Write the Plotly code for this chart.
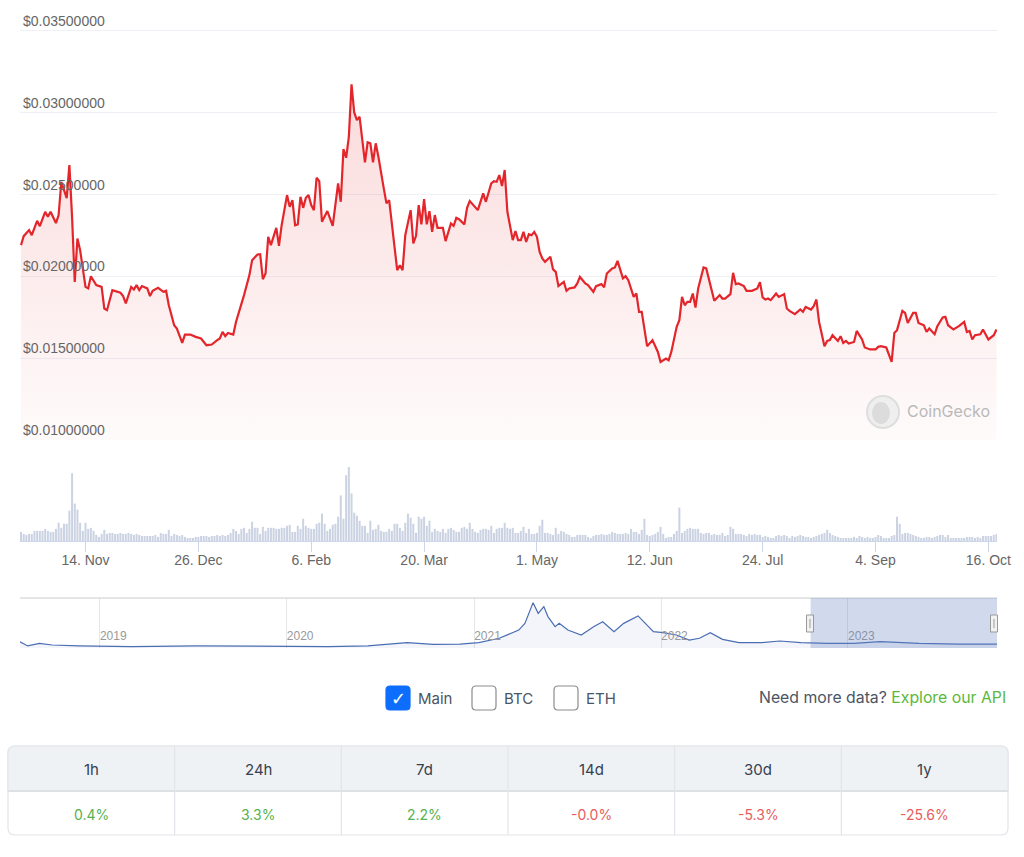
import pandas as pd
import plotly.graph_objects as go

W, H = 1024, 857

# ---- price, last 12 months (USD) ----
price_dates = [
    "2022-10-21", "2022-10-22", "2022-10-24", "2022-10-25", "2022-10-27", "2022-10-28", "2022-10-30", "2022-10-31",
    "2022-11-01", "2022-11-03", "2022-11-04", "2022-11-05", "2022-11-07", "2022-11-08", "2022-11-09", "2022-11-10",
    "2022-11-11", "2022-11-12", "2022-11-14", "2022-11-15", "2022-11-16", "2022-11-18", "2022-11-20", "2022-11-21",
    "2022-11-22", "2022-11-24", "2022-11-27", "2022-11-28", "2022-11-29", "2022-12-01", "2022-12-02", "2022-12-03",
    "2022-12-04", "2022-12-05", "2022-12-07", "2022-12-08", "2022-12-09", "2022-12-11", "2022-12-13", "2022-12-14",
    "2022-12-15", "2022-12-17", "2022-12-18", "2022-12-20", "2022-12-21", "2022-12-23", "2022-12-25", "2022-12-27",
    "2022-12-29", "2022-12-31", "2023-01-02", "2023-01-03", "2023-01-04", "2023-01-05", "2023-01-06", "2023-01-07",
    "2023-01-08", "2023-01-09", "2023-01-11", "2023-01-12", "2023-01-14", "2023-01-15", "2023-01-17", "2023-01-18",
    "2023-01-19", "2023-01-20", "2023-01-21", "2023-01-22", "2023-01-24", "2023-01-25", "2023-01-26", "2023-01-28",
    "2023-01-29", "2023-01-30", "2023-01-31", "2023-02-01", "2023-02-02", "2023-02-03", "2023-02-04", "2023-02-05",
    "2023-02-06", "2023-02-07", "2023-02-08", "2023-02-09", "2023-02-10", "2023-02-12", "2023-02-14", "2023-02-16",
    "2023-02-17", "2023-02-18", "2023-02-19", "2023-02-20", "2023-02-21", "2023-02-22", "2023-02-23", "2023-02-24",
    "2023-02-26", "2023-02-27", "2023-02-28", "2023-03-01", "2023-03-02", "2023-03-03", "2023-03-05", "2023-03-06",
    "2023-03-07", "2023-03-08", "2023-03-10", "2023-03-11", "2023-03-12", "2023-03-13", "2023-03-15", "2023-03-16",
    "2023-03-17", "2023-03-18", "2023-03-19", "2023-03-20", "2023-03-21", "2023-03-22", "2023-03-23", "2023-03-24",
    "2023-03-25", "2023-03-27", "2023-03-28", "2023-03-30", "2023-03-31", "2023-04-01", "2023-04-02", "2023-04-04",
    "2023-04-05", "2023-04-06", "2023-04-09", "2023-04-11", "2023-04-12", "2023-04-14", "2023-04-15", "2023-04-16",
    "2023-04-17", "2023-04-18", "2023-04-19", "2023-04-20", "2023-04-21", "2023-04-22", "2023-04-23", "2023-04-24",
    "2023-04-25", "2023-04-26", "2023-04-27", "2023-04-28", "2023-04-29", "2023-04-30", "2023-05-01", "2023-05-02",
    "2023-05-03", "2023-05-04", "2023-05-06", "2023-05-07", "2023-05-08", "2023-05-09", "2023-05-11", "2023-05-12",
    "2023-05-13", "2023-05-15", "2023-05-16", "2023-05-17", "2023-05-19", "2023-05-20", "2023-05-22", "2023-05-23",
    "2023-05-25", "2023-05-26", "2023-05-27", "2023-05-29", "2023-05-30", "2023-05-31", "2023-06-02", "2023-06-03",
    "2023-06-04", "2023-06-06", "2023-06-07", "2023-06-08", "2023-06-09", "2023-06-11", "2023-06-13", "2023-06-15",
    "2023-06-16", "2023-06-18", "2023-06-19", "2023-06-20", "2023-06-22", "2023-06-23", "2023-06-24", "2023-06-25",
    "2023-06-26", "2023-06-27", "2023-06-28", "2023-06-29", "2023-06-30", "2023-07-02", "2023-07-03", "2023-07-06",
    "2023-07-08", "2023-07-09", "2023-07-10", "2023-07-12", "2023-07-13", "2023-07-14", "2023-07-15", "2023-07-17",
    "2023-07-18", "2023-07-20", "2023-07-22", "2023-07-23", "2023-07-24", "2023-07-25", "2023-07-26", "2023-07-27",
    "2023-07-29", "2023-07-30", "2023-08-01", "2023-08-02", "2023-08-03", "2023-08-05", "2023-08-07", "2023-08-08",
    "2023-08-09", "2023-08-11", "2023-08-12", "2023-08-13", "2023-08-14", "2023-08-16", "2023-08-17", "2023-08-18",
    "2023-08-19", "2023-08-21", "2023-08-22", "2023-08-23", "2023-08-24", "2023-08-25", "2023-08-27", "2023-08-28",
    "2023-08-30", "2023-08-31", "2023-09-02", "2023-09-04", "2023-09-05", "2023-09-06", "2023-09-08", "2023-09-09",
    "2023-09-10", "2023-09-11", "2023-09-12", "2023-09-14", "2023-09-15", "2023-09-16", "2023-09-18", "2023-09-19",
    "2023-09-20", "2023-09-22", "2023-09-23", "2023-09-24", "2023-09-26", "2023-09-27", "2023-09-29", "2023-09-30",
    "2023-10-01", "2023-10-03", "2023-10-05", "2023-10-07", "2023-10-08", "2023-10-09", "2023-10-10", "2023-10-11",
    "2023-10-13", "2023-10-14", "2023-10-16", "2023-10-18", "2023-10-19",
]
price_usd = [
    0.02190, 0.02245, 0.02282, 0.02251, 0.02339, 0.02306, 0.02394, 0.02363,
    0.02394, 0.02325, 0.02374, 0.02577, 0.02477, 0.02679, 0.02363, 0.01966,
    0.02231, 0.02160, 0.01935, 0.01926, 0.02000, 0.01946, 0.01935, 0.01803,
    0.01793, 0.01915, 0.01899, 0.01879, 0.01834, 0.01935, 0.01919, 0.01946,
    0.01915, 0.01940, 0.01926, 0.01879, 0.01911, 0.01929, 0.01905, 0.01911,
    0.01823, 0.01701, 0.01681, 0.01593, 0.01644, 0.01644, 0.01630, 0.01620,
    0.01579, 0.01583, 0.01610, 0.01620, 0.01660, 0.01634, 0.01654, 0.01651,
    0.01644, 0.01721, 0.01823, 0.01885, 0.02007, 0.02098, 0.02133, 0.02135,
    0.01982, 0.02017, 0.02241, 0.02190, 0.02296, 0.02186, 0.02312, 0.02496,
    0.02424, 0.02465, 0.02312, 0.02317, 0.02485, 0.02418, 0.02479, 0.02496,
    0.02435, 0.02404, 0.02602, 0.02581, 0.02333, 0.02398, 0.02308, 0.02567,
    0.02455, 0.02777, 0.02724, 0.02852, 0.03172, 0.03001, 0.02954, 0.02974,
    0.02696, 0.02818, 0.02812, 0.02696, 0.02812, 0.02730, 0.02537, 0.02445,
    0.02465, 0.02312, 0.02037, 0.02068, 0.02037, 0.02251, 0.02404, 0.02201,
    0.02247, 0.02435, 0.02317, 0.02471, 0.02317, 0.02398, 0.02271, 0.02374,
    0.02296, 0.02296, 0.02215, 0.02323, 0.02308, 0.02357, 0.02349, 0.02317,
    0.02418, 0.02459, 0.02404, 0.02506, 0.02455, 0.02567, 0.02581, 0.02577,
    0.02618, 0.02551, 0.02649, 0.02394, 0.02312, 0.02221, 0.02276, 0.02221,
    0.02221, 0.02271, 0.02210, 0.02257, 0.02251, 0.02271, 0.02241, 0.02149,
    0.02109, 0.02088, 0.02119, 0.02042, 0.02027, 0.01940, 0.01966, 0.01911,
    0.01926, 0.01932, 0.01956, 0.01996, 0.01956, 0.01946, 0.01905, 0.01940,
    0.01952, 0.01932, 0.02017, 0.02048, 0.02054, 0.02094, 0.01987, 0.02001,
    0.01976, 0.01874, 0.01895, 0.01783, 0.01783, 0.01573, 0.01610, 0.01538,
    0.01477, 0.01498, 0.01487, 0.01538, 0.01691, 0.01732, 0.01874, 0.01823,
    0.01844, 0.01844, 0.01895, 0.01809, 0.01926, 0.02054, 0.02048, 0.01850,
    0.01885, 0.01864, 0.01864, 0.01891, 0.02021, 0.01952, 0.01956, 0.01940,
    0.01911, 0.01911, 0.01926, 0.01964, 0.01871, 0.01858, 0.01864, 0.01854,
    0.01895, 0.01874, 0.01891, 0.01803, 0.01789, 0.01769, 0.01797, 0.01783,
    0.01813, 0.01797, 0.01817, 0.01858, 0.01721, 0.01573, 0.01605, 0.01610,
    0.01640, 0.01605, 0.01634, 0.01593, 0.01605, 0.01589, 0.01599, 0.01666,
    0.01614, 0.01565, 0.01553, 0.01553, 0.01569, 0.01573, 0.01565, 0.01518,
    0.01477, 0.01654, 0.01671, 0.01789, 0.01776, 0.01715, 0.01776, 0.01776,
    0.01715, 0.01701, 0.01660, 0.01681, 0.01646, 0.01695, 0.01748, 0.01752,
    0.01701, 0.01675, 0.01695, 0.01721, 0.01660, 0.01666, 0.01614, 0.01640,
    0.01646, 0.01675, 0.01614, 0.01640, 0.01675,
]

# ---- daily volume (relative units), one bar per day from 2022-10-21 ----
volume_start = "2022-10-21"
volume = [
    9, 7, 6, 7, 7, 10, 10, 10, 10, 12, 10, 9, 9, 12, 18, 13, 17, 17,
    30, 67, 37, 31, 18, 10, 18, 12, 13, 10, 6, 4, 7, 11, 7, 8, 8, 7,
    7, 8, 7, 7, 8, 7, 6, 7, 6, 5, 5, 5, 5, 5, 6, 4, 8, 7, 7, 11, 5, 7, 6, 5,
    6, 4, 3, 3, 3, 4, 4, 5, 5, 5, 4, 5, 5, 6, 5, 6, 5, 6,
    8, 12, 10, 7, 12, 13, 8, 12, 19, 13, 13, 7, 14, 10, 13, 13, 13, 12, 12,
    13, 13, 15, 16, 9, 9, 15, 12, 22, 15, 13, 12, 12, 17, 18, 27, 17, 10, 12,
    16, 17, 24, 45, 22, 65, 73, 47, 28, 25, 20, 15, 15, 8, 20,
    11, 12, 16, 10, 9, 9, 12, 10, 17, 17, 13, 10, 18, 27, 23, 17, 8, 24, 22, 24,
    15, 20, 9, 12, 10, 9, 12, 8, 12, 13, 11, 9, 9, 13, 14, 12, 18, 12, 9, 8,
    11, 12, 12, 11, 15, 8, 12, 13, 13, 18, 13, 12, 13, 8, 8, 10, 14, 8, 12, 7,
    7, 8, 15, 21, 8, 8, 7, 6, 13, 7, 10, 9, 7, 6, 4, 4, 6, 6, 6, 6,
    4, 3, 5, 6, 6, 7, 6, 6, 7, 9, 8, 7, 7, 7, 8, 7, 12, 9, 9, 7,
    11, 22, 6, 5, 6, 7, 9, 14, 7, 3, 4, 4, 7, 10, 33, 8, 10, 12, 13, 12,
    12, 12, 8, 7, 8, 8, 6, 7, 6, 6, 8, 5, 6, 14, 12, 7, 7, 7, 6, 5,
    7, 6, 7, 6, 6, 4, 5, 4, 3, 3, 5, 6, 5, 6, 5, 3, 5, 4, 5, 6,
    5, 4, 4, 3, 4, 5, 6, 7, 8, 11, 8, 6, 5, 4, 3, 3, 3, 3, 3, 4,
    3, 5, 4, 3, 4, 3, 3, 4, 6, 5, 3, 3, 3, 5, 6, 24, 17, 7, 8, 8,
    7, 6, 5, 4, 3, 3, 4, 4, 3, 4, 5, 6, 6, 4, 6, 3, 3, 3, 3, 3,
    3, 4, 4, 4, 3, 4, 3, 5, 5, 5, 5, 6, 7,
]

# ---- full-history navigator (USD) ----
nav_dates = [
    "2018-07-29", "2018-08-13", "2018-09-05", "2018-09-30", "2018-11-21", "2019-03-03", "2019-07-10",
    "2019-11-15", "2020-03-22", "2020-06-07", "2020-07-28", "2020-08-23", "2020-10-13", "2020-12-04",
    "2021-01-10", "2021-02-19", "2021-03-29", "2021-04-10", "2021-04-26", "2021-05-06", "2021-05-17",
    "2021-05-25", "2021-06-08", "2021-06-16", "2021-07-03", "2021-07-29", "2021-08-23", "2021-09-09",
    "2021-10-01", "2021-10-20", "2021-11-17", "2021-12-17", "2022-01-05", "2022-01-31", "2022-02-25",
    "2022-03-17", "2022-04-07", "2022-05-01", "2022-06-02", "2022-07-17", "2022-08-21", "2022-10-01",
    "2022-11-21", "2023-01-12", "2023-03-05", "2023-05-20", "2023-08-05", "2023-10-19",
]
nav_price = [
    0.027, 0.009, 0.020, 0.013, 0.009, 0.006, 0.009,
    0.006, 0.006, 0.009, 0.020, 0.023, 0.016, 0.017,
    0.023, 0.042, 0.077, 0.106, 0.195, 0.149, 0.178,
    0.135, 0.092, 0.106, 0.077, 0.056, 0.092, 0.113,
    0.070, 0.106, 0.138, 0.070, 0.066, 0.056, 0.034,
    0.042, 0.066, 0.037, 0.023, 0.023, 0.030, 0.023,
    0.020, 0.020, 0.027, 0.020, 0.017, 0.017,
]
nav_selected = ["2022-10-20", "2023-10-19"]

price_ticks = [0.010, 0.015, 0.020, 0.025, 0.030, 0.035]
date_ticks = ["2022-11-14", "2022-12-26", "2023-02-06", "2023-03-20", "2023-05-01",
              "2023-06-12", "2023-07-24", "2023-09-04", "2023-10-16"]
date_tick_labels = ["14. Nov", "26. Dec", "6. Feb", "20. Mar", "1. May",
                    "12. Jun", "24. Jul", "4. Sep", "16. Oct"]

series_options = ["Main", "BTC", "ETH"]
series_checked = [True, False, False]

periods = ["1h", "24h", "7d", "14d", "30d", "1y"]
changes = ["0.4", "3.3", "2.2", "-0.0", "-5.3", "-25.6"]


def fx(x):
    return x / W


def fy(y):
    return 1 - y / H


def rounded_rect(x0, y0, x1, y1, r, top_only=False):
    # path in paper units, built from pixel corners
    rb = 0 if top_only else r
    pts = [
        f"M {fx(x0 + r)},{fy(y0)}",
        f"L {fx(x1 - r)},{fy(y0)}",
        f"Q {fx(x1)},{fy(y0)} {fx(x1)},{fy(y0 + r)}",
        f"L {fx(x1)},{fy(y1 - rb)}",
        f"Q {fx(x1)},{fy(y1)} {fx(x1 - rb)},{fy(y1)}",
        f"L {fx(x0 + rb)},{fy(y1)}",
        f"Q {fx(x0)},{fy(y1)} {fx(x0)},{fy(y1 - rb)}",
        f"L {fx(x0)},{fy(y0 + r)}",
        f"Q {fx(x0)},{fy(y0)} {fx(x0 + r)},{fy(y0)} Z",
    ]
    return " ".join(pts)


vol_dates = pd.date_range(volume_start, periods=len(volume), freq="D")

fig = go.Figure()

fig.add_trace(go.Scatter(
    x=price_dates, y=price_usd, mode="lines",
    line=dict(color="#e3262b", width=2.2),
    fill="tozeroy",
    fillgradient=dict(type="vertical", start=0.010, stop=0.032,
                      colorscale=[[0, "rgba(227,38,43,0.02)"], [1, "rgba(227,38,43,0.17)"]]),
    xaxis="x", yaxis="y", hoverinfo="skip",
))

fig.add_trace(go.Bar(
    x=vol_dates, y=volume, marker=dict(color="#cbd3e3", line=dict(width=0)),
    xaxis="x2", yaxis="y2", hoverinfo="skip",
))

fig.add_trace(go.Scatter(
    x=nav_dates, y=nav_price, mode="lines",
    line=dict(color="#4a6db3", width=1.2),
    fill="tozeroy", fillcolor="rgba(51,92,173,0.06)",
    xaxis="x3", yaxis="y3", hoverinfo="skip",
))

dom_x = [fx(20), fx(997)]
xrange_main = ["2022-10-20 15:00", "2023-10-19 05:00"]

# price pane: 0.010 sits at y=440 px, 0.035 at y=30.7 px; top of pane kept higher for the label
px_per_usd = (440 - 30.7) / 0.025
price_top_px = 12
price_top = 0.035 + (30.7 - price_top_px) / px_per_usd

shapes = []
annotations = []

# navigator frame, mask and handles
shapes.append(dict(type="line", xref="paper", yref="paper", x0=fx(20), x1=fx(997), y0=fy(598), y1=fy(598),
                   line=dict(color="#cccccc", width=1)))
shapes.append(dict(type="rect", xref="x3", yref="paper", x0=nav_selected[0], x1=nav_selected[1],
                   y0=fy(648), y1=fy(598), fillcolor="rgba(102,133,194,0.3)", line=dict(width=0)))
for hx in (810, 994):
    shapes.append(dict(type="rect", xref="paper", yref="paper", x0=fx(hx - 3.5), x1=fx(hx + 3.5),
                       y0=fy(632), y1=fy(615), fillcolor="#f2f2f2", line=dict(color="#999999", width=1)))
    shapes.append(dict(type="line", xref="paper", yref="paper", x0=fx(hx), x1=fx(hx),
                       y0=fy(628), y1=fy(619), line=dict(color="#999999", width=1)))

# watermark
shapes.append(dict(type="circle", xref="paper", yref="paper", x0=fx(867), x1=fx(899), y0=fy(428), y1=fy(396),
                   fillcolor="#efefef", line=dict(color="#dedede", width=2)))
shapes.append(dict(type="circle", xref="paper", yref="paper", x0=fx(872), x1=fx(890), y0=fy(424), y1=fy(402),
                   fillcolor="#dcdcdc", line=dict(width=0)))
annotations.append(dict(text="CoinGecko", xref="paper", yref="paper", x=fx(905), y=fy(411),
                        xanchor="left", yanchor="middle", showarrow=False,
                        font=dict(family="Inter, Liberation Sans", size=16, color="#b9b9b9")))

# series checkboxes
box_x = [386, 472, 554]
for lbl, on, bx in zip(series_options, series_checked, box_x):
    shapes.append(dict(type="path", xref="paper", yref="paper",
                       path=rounded_rect(bx, 686, bx + 24, 710, 4),
                       fillcolor="#0d6efd" if on else "#ffffff",
                       line=dict(color="#0d6efd" if on else "#8c8c8c", width=1.2)))
    if on:
        annotations.append(dict(text="<b>✓</b>", xref="paper", yref="paper", x=fx(bx + 12), y=fy(698),
                                xanchor="center", yanchor="middle", showarrow=False,
                                font=dict(family="DejaVu Sans", size=18, color="#ffffff")))
    annotations.append(dict(text=lbl, xref="paper", yref="paper", x=fx(bx + 30), y=fy(698),
                            xanchor="left", yanchor="middle", showarrow=False,
                            font=dict(family="Inter, Liberation Sans", size=15, color="#4b5563")))

annotations.append(dict(text="Need more data? <span style='color:#5cb83c'>Explore our API</span>",
                        xref="paper", yref="paper", x=fx(1008), y=fy(697), xanchor="right", yanchor="middle",
                        showarrow=False, font=dict(family="Inter, Liberation Sans", size=15.8, color="#4b5563")))

# change table
tx0, tx1, ty0, tmid, ty1 = 8, 1008, 746, 791, 835
shapes.append(dict(type="path", xref="paper", yref="paper", path=rounded_rect(tx0, ty0, tx1, ty1, 7),
                   fillcolor="#ffffff", line=dict(color="#e2e5ea", width=1.2)))
shapes.append(dict(type="path", xref="paper", yref="paper", path=rounded_rect(tx0, ty0, tx1, tmid, 7, top_only=True),
                   fillcolor="#eff2f5", line=dict(color="#e2e5ea", width=1.2)))
shapes.append(dict(type="line", xref="paper", yref="paper", x0=fx(tx0), x1=fx(tx1), y0=fy(tmid), y1=fy(tmid),
                   line=dict(color="#dde1e6", width=2)))
col_w = (tx1 - tx0) / len(periods)
for i, (per, chg) in enumerate(zip(periods, changes)):
    if i > 0:
        shapes.append(dict(type="line", xref="paper", yref="paper", x0=fx(tx0 + i * col_w), x1=fx(tx0 + i * col_w),
                           y0=fy(ty0), y1=fy(ty1), line=dict(color="#e2e5ea", width=1.2)))
    cx = fx(tx0 + (i + 0.5) * col_w)
    annotations.append(dict(text=per, xref="paper", yref="paper", x=cx, y=fy(769), xanchor="center",
                            yanchor="middle", showarrow=False,
                            font=dict(family="Inter, Liberation Sans", size=15, color="#374151")))
    col = "#e85d5d" if chg.startswith("-") else "#56b24f"
    annotations.append(dict(text=chg + "%", xref="paper", yref="paper", x=cx, y=fy(814), xanchor="center",
                            yanchor="middle", showarrow=False,
                            font=dict(family="Inter, Liberation Sans", size=14, color=col)))

fig.update_layout(
    width=W, height=H, autosize=False, margin=dict(l=0, r=0, t=0, b=0, pad=0),
    paper_bgcolor="#ffffff", plot_bgcolor="rgba(0,0,0,0)",
    showlegend=False, bargap=0.25, hovermode=False,
    font=dict(family="Liberation Sans, Arial, sans-serif", size=14, color="#666666"),
    xaxis=dict(domain=dom_x, anchor="y", range=xrange_main, showticklabels=False, automargin=False,
               showgrid=False, zeroline=False, showline=False, ticks=""),
    yaxis=dict(domain=[fy(440), fy(price_top_px)], anchor="x", range=[0.010, price_top], tickvals=price_ticks,
               tickformat="$.8f", ticklabelposition="inside top", showgrid=True, gridcolor="#eef0f6",
               gridwidth=1, zeroline=False, showline=False, ticks="", automargin=False,
               tickfont=dict(size=14, color="#666666")),
    xaxis2=dict(domain=dom_x, anchor="y2", matches="x", tickvals=date_ticks, ticktext=date_tick_labels,
                ticks="outside", ticklen=10, tickcolor="#ccd6eb", showline=True, linecolor="#ccd6eb",
                ticklabelstandoff=-4, automargin=False,
                showgrid=False, zeroline=False, tickfont=dict(size=14, color="#666666")),
    yaxis2=dict(domain=[fy(541), fy(460)], anchor="x2", range=[0, 80], visible=False, automargin=False),
    xaxis3=dict(domain=dom_x, anchor="y3", range=["2018-07-29", "2023-10-19"], tick0="2019-01-01",
                dtick="M12", tickformat="%Y", ticklabelposition="inside right", showgrid=True,
                gridcolor="#e6e6e6", zeroline=False, showline=False, ticks="", automargin=False,
                tickfont=dict(size=12, color="#999999")),
    yaxis3=dict(domain=[fy(648), fy(598)], anchor="x3", range=[0, 0.215], visible=False, automargin=False),
    shapes=shapes, annotations=annotations,
)

fig.write_html(
    "out.html",
    config={"displayModeBar": False, "responsive": False},
    post_script="document.body.style.margin='0';document.body.style.overflow='hidden';",
)
